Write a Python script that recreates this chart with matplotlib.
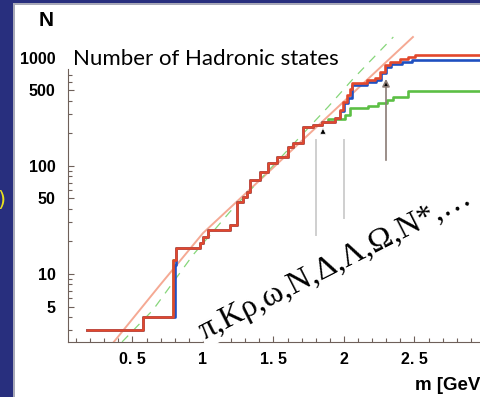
import numpy as np
import matplotlib.pyplot as plt
from matplotlib.patches import Rectangle

# red: all states, blue / green: subsets (step corners, value holds to next m)
red_m = [0.177, 0.574, 0.787, 0.809, 0.979, 1.0, 1.035, 1.19, 1.24, 1.284, 1.31,
         1.333, 1.404, 1.461, 1.525, 1.603, 1.638, 1.709, 1.78, 1.844, 1.936,
         1.972, 1.995, 2.021, 2.04, 2.057, 2.163, 2.22, 2.255, 2.291, 2.326,
         2.397, 2.454, 2.504, 3.3]
red_n = [3, 4, 13.5, 17.4, 19.4, 22, 25.5, 28.4, 46.4, 51.7, 57.5,
         74, 88, 107, 121, 150, 163, 230, 240, 256, 278,
         330, 390, 454, 520, 587, 625, 653, 742, 861, 918,
         979, 1021, 1070, 1070]

blue_m = [0.177, 0.574, 0.80, 0.809, 0.979, 1.0, 1.035, 1.19, 1.24, 1.284, 1.31,
          1.333, 1.404, 1.461, 1.525, 1.603, 1.638, 1.709, 1.78, 1.844, 1.936,
          1.975, 2.0, 2.025, 2.06, 2.163, 2.225, 2.265, 2.3, 2.336, 2.41, 2.48, 3.3]
blue_n = [3, 4, 12, 17.4, 19.4, 22, 25.5, 28.4, 46.4, 51.7, 57.5,
          74, 88, 107, 121, 150, 163, 230, 240, 256, 278,
          320, 380, 430, 560, 600, 626, 720, 820, 880, 920, 955, 955]

green_m = [0.177, 0.574, 0.787, 0.809, 0.979, 1.0, 1.035, 1.19, 1.24, 1.284, 1.31,
           1.333, 1.404, 1.461, 1.525, 1.603, 1.638, 1.709, 1.78, 1.844, 1.887,
           2.007, 2.043, 2.17, 2.241, 2.305, 2.348, 2.454, 3.3]
green_n = [3, 4, 13.5, 17.4, 19.4, 22, 25.5, 28.4, 46.4, 51.7, 57.5,
           74, 88, 107, 121, 150, 163, 230, 240, 256, 275,
           297, 344, 360, 385, 410, 437, 494, 494]

# smooth fits
fit_m = [0.362, 0.695, 1.0, 1.404, 1.851, 2.489]
fit_n = [2.30, 7.9, 23.9, 74.1, 261, 1563]
dash_m = [0.426, 0.645, 0.929, 1.19, 1.887, 2.057, 2.35]
dash_n = [2.35, 4.64, 15, 37.5, 352, 625, 1563]

xticks = [0.5, 1, 1.5, 2, 2.5, 3]
xlabels = ['0. 5', '1', '1. 5', '2', '2. 5', '3']
yticks = [5, 10, 50, 100, 500, 1000]
ylabels = ['5', '10', '50', '100', '500', '1000']

W, H = 480, 397
fig = plt.figure(figsize=(4.8, 3.97), dpi=100)
fig.patch.set_facecolor('white')

# slide frame
fig.patches.append(Rectangle((0, 0), 13 / W, 1, transform=fig.transFigure,
                             facecolor='#282f7e', edgecolor='none', zorder=0))
fig.patches.append(Rectangle((13 / W, 0), 2 / W, 1, transform=fig.transFigure,
                             facecolor='#a8a9b8', edgecolor='none', zorder=0))
fig.patches.append(Rectangle((0, 1 - 3 / H), 1, 3 / H, transform=fig.transFigure,
                             facecolor='#282f7e', edgecolor='none', zorder=0))
fig.patches.append(Rectangle((13 / W, 1 - 4.5 / H), 1, 1.5 / H, transform=fig.transFigure,
                             facecolor='#a8a9b8', edgecolor='none', zorder=0))
fig.text(-3 / W, 1 - 200 / H, ')', color='#e8e020', fontsize=15,
         ha='left', va='center')

ax = fig.add_axes([68 / W, (H - 342) / H, (505 - 68) / W, (342 - 30) / H])
ax.set_facecolor('none')
ax.set_yscale('log')
ax.set_xlim(0.0426, 3.142)
ax.set_ylim(2.346, 1815)

ax.plot(fit_m, fit_n, color='#f4a088', lw=1.4, alpha=0.9, zorder=1)
ax.plot(dash_m, dash_n, color='#86d67a', lw=0.9, ls=(0, (7, 6)), zorder=1)
ax.step(green_m, green_n, where='post', color='#5cbf45', lw=1.9, zorder=2)
ax.step(blue_m, blue_n, where='post', color='#1f50c0', lw=1.9, zorder=3)
ax.step(red_m, red_n, where='post', color='#e2482c', lw=1.9, zorder=4)

# arrows and box
ax.annotate('', xy=(2.298, 640), xytext=(2.298, 113),
            arrowprops=dict(arrowstyle='-|>', ec='#8a7c76', fc='black', lw=1.2,
                            mutation_scale=11, shrinkA=0, shrinkB=0))
ax.annotate('', xy=(1.851, 228), xytext=(1.851, 190),
            arrowprops=dict(arrowstyle='-|>', ec='white', fc='black', lw=0.5,
                            mutation_scale=11, shrinkA=0, shrinkB=0))
ax.plot([1.801, 1.801], [23, 174], color='#cfcfcf', lw=1.4)
ax.plot([2.0, 2.0], [33, 174], color='#cfcfcf', lw=1.4)

axc = '#6e605a'
for s in ['top', 'right']:
    ax.spines[s].set_visible(False)
ax.spines['left'].set_color(axc)
ax.spines['bottom'].set_color(axc)
ax.spines['left'].set_bounds(2.346, 791)

ax.set_xticks(xticks)
ax.set_xticklabels(xlabels)
ax.set_xticks(np.arange(0.1, 3.05, 0.1), minor=True)
ax.set_yticks(yticks)
ax.set_yticklabels(ylabels)
ax.set_yticks([3, 4, 6, 7, 8, 9, 20, 30, 40, 60, 70, 80, 90, 200, 300, 400, 600, 700],
              minor=True)
ax.yaxis.set_minor_formatter(plt.NullFormatter())
ax.tick_params(which='both', direction='in', color=axc, width=0.8)
ax.tick_params(which='major', length=4)
ax.tick_params(which='minor', length=3)
ax.tick_params(axis='x', pad=7)
ax.tick_params(axis='y', pad=9)
ax.yaxis.get_major_ticks()[-1].tick1line.set_visible(False)
for lab in ax.get_xticklabels() + ax.get_yticklabels():
    lab.set_fontfamily('Liberation Sans')
    lab.set_fontweight('bold')
    lab.set_fontsize(11.5)

fig.text(46 / W, 1 - 20 / H, 'N', fontsize=15, fontweight='bold',
         family='Liberation Sans', ha='center', va='center')
fig.text(415 / W, 1 - 386 / H, 'm [GeV]', fontsize=13.5, fontweight='bold',
         family='Liberation Sans', ha='left', va='center')
fig.text(73 / W, 1 - 65 / H, 'Number of Hadronic states', fontsize=16,
         family='Lato', ha='left', va='baseline')
fig.text(336 / W, 1 - 264 / H, 'π,Kρ,ω,N,Δ,Λ,Ω,N*,…', fontsize=23,
         family='Liberation Serif', rotation=27, ha='center', va='center',
         rotation_mode='anchor', zorder=5,
         bbox=dict(facecolor='white', edgecolor='none', pad=1.5))

fig.savefig('out.png', dpi=100)
